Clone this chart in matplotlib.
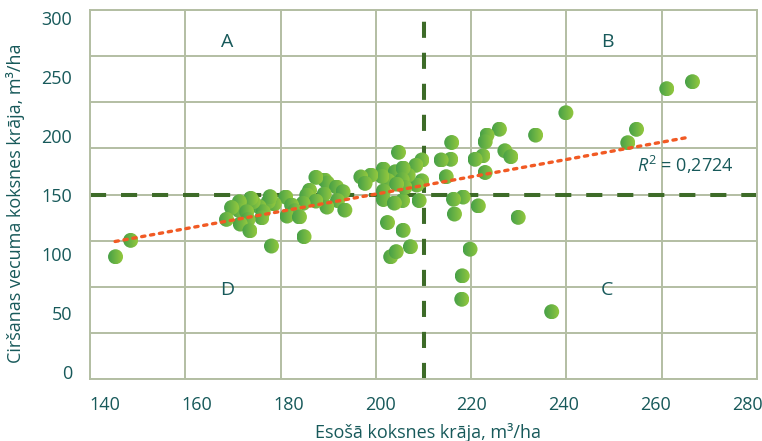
import numpy as np
import matplotlib
matplotlib.use("Agg")
import matplotlib.pyplot as plt
from matplotlib.patches import Ellipse
from matplotlib.colors import LinearSegmentedColormap

# Esošā koksnes krāja (x) un ciršanas vecuma koksnes krāja (y), m3/ha
stock_now = [
    142.3, 145.6, 176.3, 183.4, 201.6, 205.0, 206.6, 202.3, 203.5, 219.6,
    217.9, 217.8, 237.4, 230.1, 216.2, 221.4, 218.1, 216.0, 208.5, 204.9,
    262.5, 268.1, 240.5, 255.9, 254.0, 233.9, 226.0, 223.3, 222.9, 215.6,
    227.2, 228.5, 222.4, 220.7, 222.9, 215.4, 213.3, 214.4, 209.1, 207.8,
    209.1, 208.0, 206.1, 204.0, 200.7, 203.3, 205.0, 204.8, 205.4, 201.7,
    203.6, 200.4, 198.0, 195.8, 196.7, 200.7, 200.7, 203.1, 187.9, 188.5,
    190.5, 191.9, 187.8, 190.7, 188.4, 192.3, 186.0, 184.6, 184.0, 186.0,
    183.2, 179.4, 180.7, 181.4, 179.7, 182.4, 176.9, 175.6, 176.0, 173.6,
    174.5, 174.2, 172.3, 171.8, 169.3, 169.2, 170.9, 167.6, 171.2, 169.5,
    171.6, 166.5,
]
stock_cut = [
    97.7, 111.6, 106.8, 114.7, 126.7, 120.1, 106.2, 97.7, 102.0, 104.1,
    81.5, 61.7, 51.1, 131.1, 133.9, 140.8, 148.3, 146.4, 145.3, 145.3,
    240.1, 246.0, 219.7, 205.7, 194.3, 200.8, 205.8, 200.8, 195.2, 194.5,
    187.5, 182.5, 183.2, 180.3, 169.1, 180.3, 179.7, 165.5, 179.7, 175.2,
    162.0, 158.5, 166.9, 186.2, 172.0, 169.7, 172.9, 163.1, 156.5, 162.3,
    159.3, 165.8, 166.9, 165.3, 159.9, 153.4, 146.2, 143.2, 162.7, 160.2,
    156.8, 152.8, 150.8, 145.3, 139.8, 137.3, 165.0, 154.0, 150.0, 144.9,
    143.0, 148.3, 141.5, 136.7, 132.2, 131.4, 142.4, 144.3, 148.6, 140.1,
    135.8, 130.7, 144.3, 147.2, 144.3, 137.0, 135.8, 139.4, 129.2, 125.4,
    119.7, 129.4,
]
x_ticks = [140, 160, 180, 200, 220, 240, 260, 280]
y_ticks = [0, 50, 100, 150, 200, 250, 300]
x_split = 209.5
y_split = 150
r2_label = "$R^2$ = 0,2724"

TEXT = "#17595a"
GRID = "#b3bea3"
DASH = "#3d6b28"
TREND = "#f15a24"

plt.rcParams['font.family'] = ['Open Sans', 'DejaVu Sans']
plt.rcParams['mathtext.fontset'] = 'custom'
plt.rcParams['mathtext.rm'] = 'Open Sans'
plt.rcParams['mathtext.it'] = 'Open Sans:italic'

fig = plt.figure(figsize=(7.62, 4.41), dpi=100)
ax_w, ax_h = 667, 369  # axes size in pixels
ax = fig.add_axes([90 / 762, 1 - 379 / 441, ax_w / 762, ax_h / 441])

xlim = (136.73, 282.17)
ylim = (-5.9, 306.8)

# grid lines (spacing differs slightly from the printed labels in the original)
ax.set_xticks(np.linspace(xlim[0], xlim[1], 8), minor=True)
ax.set_yticks(np.linspace(ylim[0], ylim[1], 9), minor=True)
ax.grid(which='minor', color=GRID, linewidth=1.4)
ax.set_axisbelow(True)
ax.set_xticks(x_ticks)
ax.set_yticks(y_ticks)
ax.tick_params(which='both', length=0)
ax.tick_params(axis='x', pad=12, labelsize=13, labelcolor=TEXT)
ax.tick_params(axis='y', pad=13, labelsize=13, labelcolor=TEXT)
for s in ax.spines.values():
    s.set_color(GRID)
    s.set_linewidth(1.4)

# split lines
ax.axhline(y_split, color=DASH, lw=2.9, dashes=(4, 3.7), zorder=2)
ax.axvline(x_split, color=DASH, lw=2.9, dashes=(4, 3.7), zorder=2)

# points: circles with a horizontal dark-to-light green gradient
green = LinearSegmentedColormap.from_list('dot', ['#47a047', '#6cb444', '#93c83e'])
grad = np.linspace(0, 1, 32).reshape(1, -1)
d_px = 15.0
w = d_px * (xlim[1] - xlim[0]) / ax_w
h = d_px * (ylim[1] - ylim[0]) / ax_h
for xv, yv in zip(stock_now, stock_cut):
    circ = Ellipse((xv, yv), w, h, transform=ax.transData, facecolor='none',
                   edgecolor='none')
    ax.add_patch(circ)
    im = ax.imshow(grad, cmap=green, extent=(xv - w / 2, xv + w / 2, yv - h / 2, yv + h / 2),
                   aspect='auto', interpolation='bilinear', zorder=3)
    im.set_clip_path(circ)

# linear trend
k, b = np.polyfit(stock_now, stock_cut, 1)
tx = np.array([142.2, 266.7])
ax.plot(tx, k * tx + b, color=TREND, lw=2.4, linestyle=(0, (1.0, 1.7)),
        dash_capstyle='round', zorder=4)

ax.text(256, 175.4, r2_label, color=TEXT, fontsize=13, ha='left', va='center')

for lab, xv, yv in [('A', 166.6, 279.7), ('B', 249.5, 279.7),
                    ('D', 166.6, 69.5), ('C', 249.5, 69.5)]:
    ax.text(xv, yv, lab, color=TEXT, fontsize=14, ha='center', va='center')

ax.set_xlim(*xlim)
ax.set_ylim(*ylim)

ax.set_xlabel('Esošā koksnes krāja, m³/ha', color=TEXT, fontsize=13)
ax.set_ylabel('Ciršanas vecuma koksnes krāja, m³/ha', color=TEXT, fontsize=13)
ax.xaxis.set_label_coords(0.507, -0.146)
ax.yaxis.set_label_coords(-0.112, 0.475)
for lbl in (ax.xaxis.label, ax.yaxis.label):
    lbl.set_verticalalignment('center')

fig.savefig('out.png', dpi=100)
